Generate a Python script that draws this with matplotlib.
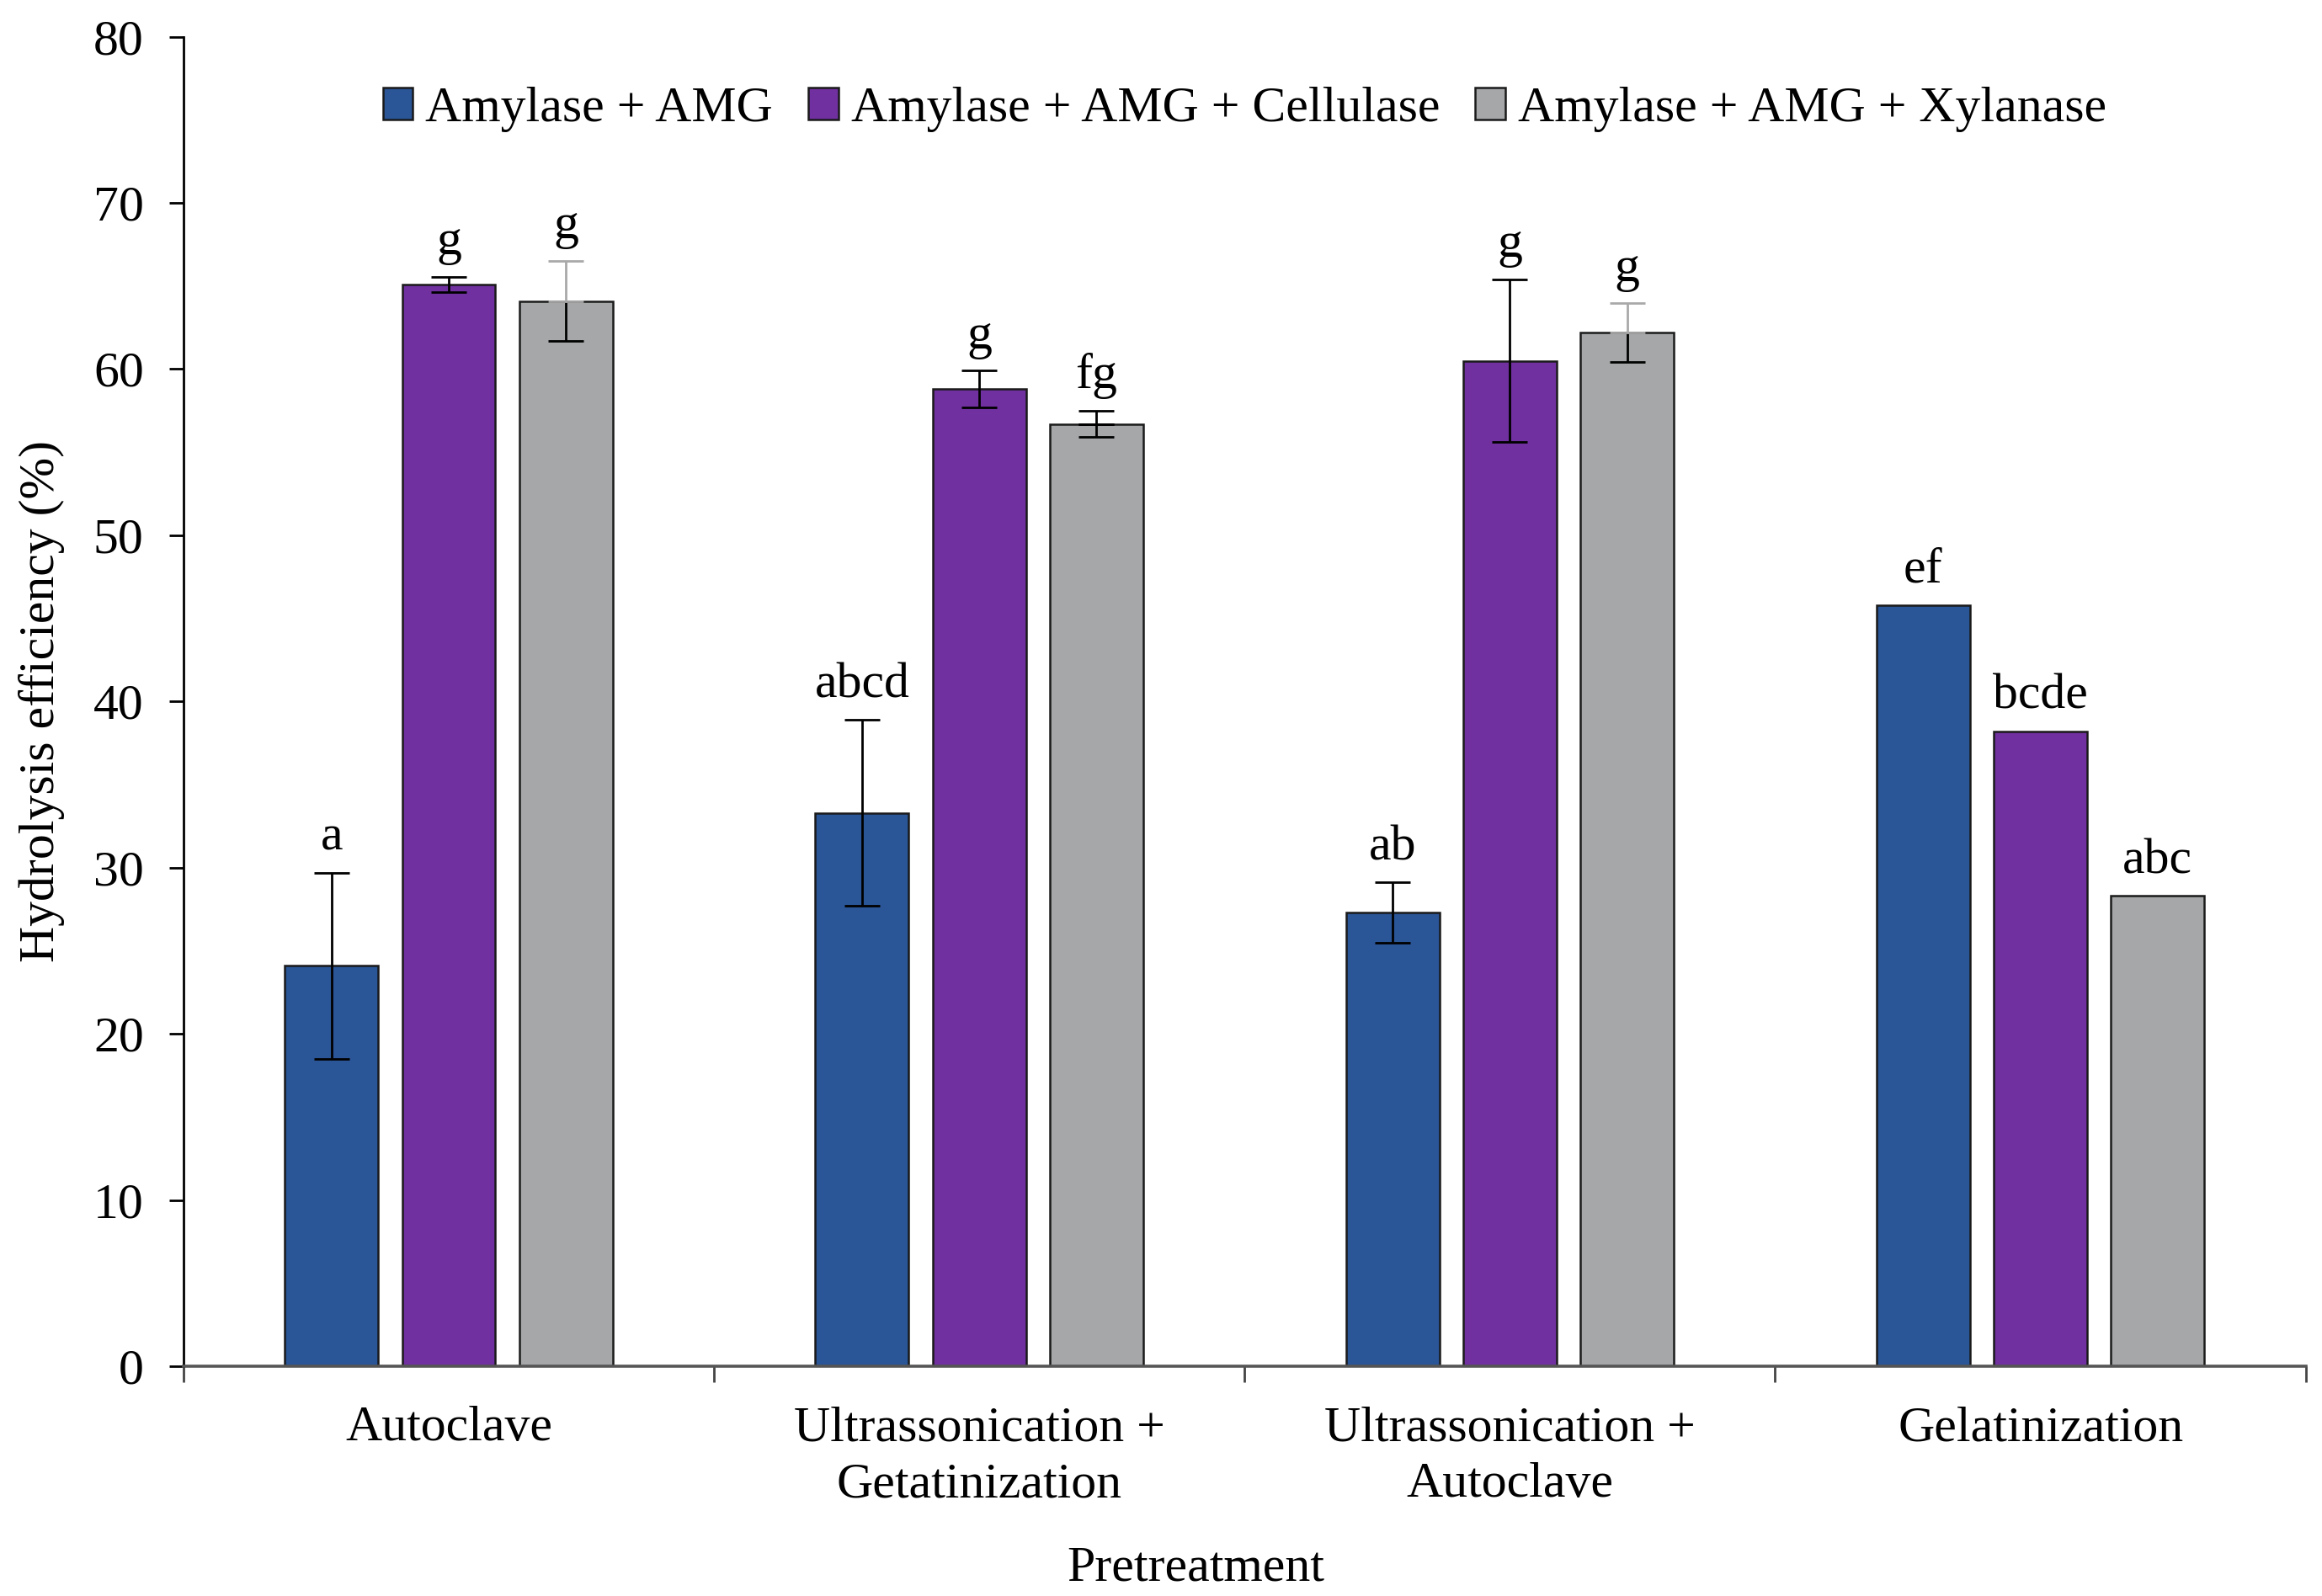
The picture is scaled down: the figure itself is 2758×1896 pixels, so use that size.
import numpy as np
import matplotlib.pyplot as plt

plt.rcParams['font.family'] = ['Liberation Serif', 'DejaVu Serif']

# Data
categories = ['Autoclave', 'Ultrassonication +\nGetatinization',
              'Ultrassonication +\nAutoclave', 'Gelatinization']
series = ['Amylase + AMG', 'Amylase + AMG + Cellulase', 'Amylase + AMG + Xylanase']

amg = [24.1, 33.3, 27.3, 45.8]
amg_cel = [65.1, 58.8, 60.5, 38.2]
amg_xyl = [64.1, 56.7, 62.2, 28.3]

amg_err = [5.6, 5.6, 1.8, 0]
amg_cel_err = [0.45, 1.1, 4.9, 0]
amg_xyl_err = [2.4, 0.8, 1.75, 0]

amg_lbl = ['a', 'abcd', 'ab', 'ef']
amg_cel_lbl = ['g', 'g', 'g', 'bcde']
amg_xyl_lbl = ['g', 'fg', 'g', 'abc']

colors = ['#2A5597', '#7030A0', '#A5A7A8']
# upper half of the xylanase error bars is drawn light grey in the original
xyl_upper_col = ['#A9A9A9', 'black', '#A9A9A9', 'black']

fs = 21.5

fig = plt.figure(figsize=(13.79, 9.48), dpi=200)
ax = fig.add_axes([0.079, 0.144, 0.914, 0.833])

x = np.arange(len(categories))
width = 0.176
step = 0.221

vals = [amg, amg_cel, amg_xyl]
errs = [amg_err, amg_cel_err, amg_xyl_err]
lbls = [amg_lbl, amg_cel_lbl, amg_xyl_lbl]

for i in range(3):
    pos = x + (i - 1) * step
    ax.bar(pos, vals[i], width, color=colors[i], edgecolor='#1a1a1a',
           linewidth=0.9, label=series[i], zorder=2)
    for j in range(len(categories)):
        e = errs[i][j]
        if e > 0:
            if i == 2:
                ax.errorbar(pos[j], vals[i][j], yerr=[[e], [0]], fmt='none',
                            ecolor='black', elinewidth=1.0, capsize=7.5,
                            capthick=1.0, zorder=3)
                ax.errorbar(pos[j], vals[i][j], yerr=[[0], [e]], fmt='none',
                            ecolor=xyl_upper_col[j], elinewidth=1.0, capsize=7.5,
                            capthick=1.0, zorder=3)
            else:
                ax.errorbar(pos[j], vals[i][j], yerr=e, fmt='none',
                            ecolor='black', elinewidth=1.0, capsize=7.5,
                            capthick=1.0, zorder=3)
        ax.annotate(lbls[i][j], xy=(pos[j], vals[i][j] + e), xytext=(0, 5),
                    textcoords='offset points', ha='center', va='bottom',
                    fontsize=fs)

ax.set_xlim(-0.5, 3.5)
ax.set_ylim(0, 80)
ax.set_yticks(np.arange(0, 81, 10))

ax.set_xticks(x)
ax.set_xticklabels(categories, fontsize=fs, linespacing=1.32)
ax.tick_params(axis='x', which='major', length=0, pad=17)
ax.set_xticks(np.arange(-0.5, 4, 1), minor=True)
ax.tick_params(axis='x', which='minor', length=7, width=1.0, direction='out',
               color='#444444')
ax.tick_params(axis='y', labelsize=fs, length=6, width=1.0, pad=11)

ax.spines['top'].set_visible(False)
ax.spines['right'].set_visible(False)
ax.spines['bottom'].set_color('#555555')
ax.spines['bottom'].set_linewidth(1.3)
ax.spines['left'].set_linewidth(1.0)

ax.set_ylabel('Hydrolysis efficiency (%)', fontsize=fs, labelpad=12)
ax.set_xlabel('Pretreatment', fontsize=fs)
ax.xaxis.set_label_coords(0.477, -0.135)

ax.legend(loc='upper center', bbox_to_anchor=(0.5, 1.0), ncol=3, frameon=False,
          fontsize=fs, handlelength=0.6, handleheight=0.6, handletextpad=0.25,
          columnspacing=0.7, borderaxespad=0.6)

fig.savefig('out.png', dpi=200)
